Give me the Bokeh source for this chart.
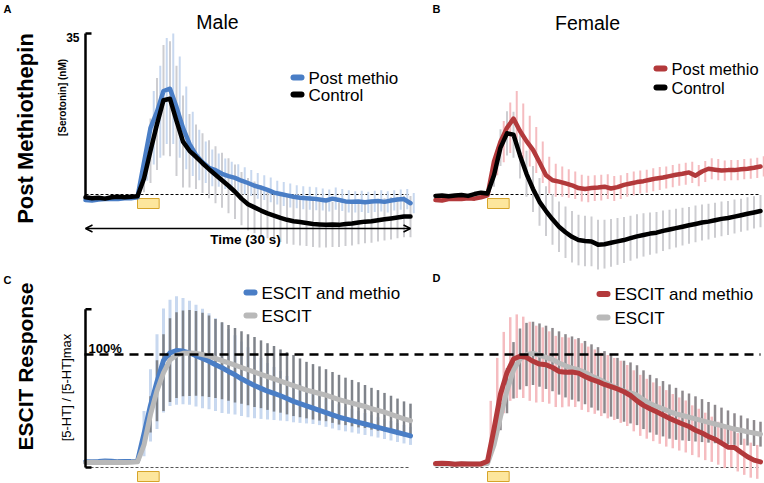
import numpy as np
from bokeh.plotting import figure
from bokeh.models import Range1d, Label, Arrow, OpenHead
from bokeh.embed import file_html
from bokeh.resources import INLINE

# ---------------- data ----------------
time_s = [0.0, 0.6, 1.2, 1.8, 2.4, 3.0, 3.6, 4.2, 4.8, 5.4, 6.0, 6.6, 7.2, 7.8, 8.4, 9.0,
          9.6, 10.2, 10.8, 11.4, 12.0, 12.6, 13.2, 13.8, 14.4, 15.0, 15.6, 16.2, 16.8, 17.4,
          18.0, 18.6, 19.2, 19.8, 20.4, 21.0, 21.6, 22.2, 22.8, 23.4, 24.0, 24.6, 25.2, 25.8,
          26.4, 27.0, 27.6, 28.2, 28.8, 29.4, 30.0]
stim_start, stim_end = 4.8, 6.8
y_top_nM = 35
axis_top_pct = 140
ref_pct = 100

# Panel A - Male, serotonin (nM)
a_post = [-1.2, -1.3, -1.1, -1.0, -0.9, -1.0, -0.8, -0.8, -0.6,
          7.0, 14.5, 18.0, 22.5, 23.0, 19.0, 14.5, 11.0, 8.6, 7.0, 5.8,
          5.3, 4.5, 4.0, 3.6, 3.0, 2.5, 1.9, 1.5, 1.0, 0.4,
          0.1, -0.2, -0.5, -0.7, -0.8, -0.9, -1.1, -1.3, -0.9, -1.2,
          -1.5, -1.6, -1.5, -1.7, -1.5, -1.4, -1.6, -1.3, -1.1, -1.0, -1.9]
a_ctrl = [-0.6, -0.8, -0.7, -0.9, -0.6, -0.5, -0.6, -0.5, -0.4,
          3.5, 9.5, 15.3, 20.5, 20.8, 16.0, 11.5, 9.5, 8.2, 6.8, 5.5,
          4.3, 3.1, 1.9, 0.6, -0.9, -2.1, -2.8, -3.5, -4.1, -4.6,
          -5.1, -5.5, -5.8, -6.0, -6.2, -6.4, -6.5, -6.6, -6.5, -6.6,
          -6.4, -6.3, -6.1, -5.9, -5.8, -5.6, -5.4, -5.2, -5.0, -4.8, -4.8]
a_post_err = [0, 0, 0, 0, 0, 0, 0, 0, 0,
              4, 8, 10, 11.5, 12, 11, 9, 7, 5.5, 4.5,
              4, 3.6, 3.3, 3.1, 3.0, 2.9, 2.8, 2.8, 2.7, 2.7,
              2.6, 2.6, 2.6, 2.5, 2.5, 2.5, 2.5, 2.4, 2.4, 2.4,
              2.4, 2.4, 2.3, 2.3, 2.3, 2.3, 2.3, 2.3, 2.2, 2.2,
              2.2, 2.2]
a_ctrl_err = [0, 0, 0, 0, 0, 0, 0, 0, 0,
              3, 7, 10, 12, 12.5, 12, 10, 8, 7, 6.5,
              6.3, 6.2, 6.0, 6.0, 5.9, 5.8, 5.7, 5.6, 5.5, 5.4,
              5.3, 5.2, 5.2, 5.1, 5.1, 5.0, 5.0, 5.0, 4.9, 4.9,
              4.8, 4.8, 4.8, 4.7, 4.7, 4.7, 4.6, 4.6, 4.6, 4.5,
              4.5, 4.5]

# Panel B - Female, serotonin (nM)
b_post = [-1.2, -1.3, -1.0, -0.9, -1.0, -0.8, -0.9, -0.6, -0.2,
          7.2, 11.5, 14.5, 16.5, 13.8, 11.6, 9.7, 7.0, 4.2, 3.1, 2.8,
          2.4, 2.0, 1.4, 1.2, 1.4, 1.5, 1.7, 1.3, 1.6, 2.1,
          2.4, 2.7, 2.9, 3.2, 3.5, 3.7, 4.0, 4.3, 4.5, 4.8,
          4.1, 5.0, 5.6, 5.4, 5.2, 5.3, 5.3, 5.5, 5.6, 5.8, 6.1]
b_ctrl = [-0.3, -0.2, -0.4, -0.2, -0.1, -0.3, 0.1, 0.4, 0.2,
          4.2, 10.2, 13.3, 13.0, 8.5, 4.5, 1.2, -1.6, -3.6, -5.4, -7.0,
          -8.2, -9.2, -9.9, -10.1, -10.2, -10.9, -10.8, -10.5, -10.2, -9.9,
          -9.5, -9.1, -8.8, -8.5, -8.3, -7.9, -7.6, -7.3, -7.0, -6.7,
          -6.4, -6.1, -5.9, -5.6, -5.3, -5.1, -4.8, -4.5, -4.2, -3.9, -3.6]
b_post_err = [0, 0, 0, 0, 0, 0, 0, 0, 0,
              3, 4.5, 5.5, 6, 6, 5.5, 5, 4.5, 4, 3.6,
              3.3, 3.1, 3.0, 2.9, 2.9, 2.8, 2.8, 2.7, 2.7, 2.6,
              2.6, 2.6, 2.5, 2.5, 2.5, 2.5, 2.4, 2.4, 2.4, 2.4,
              2.3, 2.3, 2.3, 2.3, 2.3, 2.2, 2.2, 2.2, 2.2, 2.2,
              2.2, 2.2]
b_ctrl_err = [0, 0, 0, 0, 0, 0, 0, 0, 0,
              2.5, 4, 4.8, 5, 5, 5, 5, 5.2, 5.4, 5.5,
              5.5, 5.6, 5.6, 5.5, 5.5, 5.4, 5.4, 5.3, 5.2, 5.1,
              5.0, 4.9, 4.8, 4.7, 4.6, 4.5, 4.4, 4.3, 4.2, 4.1,
              4.0, 4.0, 3.9, 3.9, 3.8, 3.8, 3.7, 3.7, 3.6, 3.6,
              3.5, 3.5]

# Panel C - Male, ESCIT response (% of max)
c_combo = [5.0, 5.2, 5.3, 5.8, 5.5, 5.2, 5.3, 5.2, 5.5,
           30.0, 55.0, 76.0, 94.7, 101.5, 103.5, 103.0, 101.5, 99.0, 96.5, 94.0,
           91.0, 88.3, 85.0, 82.0, 78.5, 75.5, 72.5, 70.0, 67.5, 65.5,
           63.5, 61.0, 58.5, 56.5, 54.5, 52.5, 50.5, 48.5, 46.5, 44.5,
           43.0, 41.5, 40.0, 38.5, 37.0, 35.5, 34.0, 32.5, 31.0, 29.5, 28.0]
c_escit = [4.5, 4.6, 4.5, 4.7, 4.5, 4.6, 4.5, 4.6, 5.0,
           20.0, 47.0, 68.0, 84.0, 95.0, 99.5, 101.0, 101.3, 101.0, 100.0, 98.5,
           96.5, 94.5, 92.5, 90.5, 88.5, 86.5, 84.5, 82.5, 80.5, 78.5,
           76.5, 74.5, 72.5, 70.5, 68.5, 67.0, 65.5, 64.0, 62.0, 60.0,
           58.5, 57.0, 55.5, 54.0, 52.0, 50.5, 49.0, 47.0, 45.0, 43.0, 41.5]
c_combo_err = [0, 0, 0, 0, 0, 0, 0, 0, 0,
               20, 32, 42, 46, 47, 48, 47, 46, 45, 44,
               42.5, 41, 40, 37.5, 35, 33, 31, 29, 27, 25,
               23.5, 22, 20, 18.5, 17, 15.5, 14, 13, 12.5, 12,
               11.5, 11, 10.5, 10, 9.7, 9.4, 9, 8.8, 8.6, 8.4,
               8.2, 8]
c_escit_err = [0, 0, 0, 0, 0, 0, 0, 0, 0, 0,
               16, 27, 34, 37, 38, 38, 38, 37.5, 37, 36,
               35, 34, 33.5, 33, 32, 31.5, 31, 30, 29.5, 29,
               28, 27.5, 27, 26, 25, 24.5, 24, 23, 22.5, 22,
               21, 20.5, 20, 19, 18.5, 18, 17, 16.5, 16, 15.5,
               15]

# Panel D - Female, ESCIT response (% of max)
d_combo = [3.5, 3.8, 3.6, 2.8, 3.3, 3.1, 3.0, 3.2, 5.5,
           34.0, 65.0, 84.0, 96.0, 98.5, 97.5, 94.0, 91.5, 91.0, 88.5, 85.0,
           84.3, 84.5, 83.5, 80.5, 78.0, 76.0, 73.5, 71.5, 69.5, 67.0,
           63.7, 59.0, 55.0, 52.0, 49.3, 46.5, 43.5, 41.0, 38.5, 36.3,
           33.0, 30.5, 27.5, 25.0, 21.5, 18.0, 17.8, 13.5, 9.5, 6.5, 5.0]
d_escit = [3.0, 3.2, 3.0, 2.9, 3.1, 3.0, 2.9, 3.0, 3.5,
           20.0, 45.0, 68.0, 86.0, 96.0, 100.0, 101.0, 99.5, 97.5, 95.5, 92.5,
           90.0, 88.0, 86.5, 84.0, 81.0, 78.5, 75.5, 72.5, 70.0, 67.5,
           66.0, 64.0, 60.0, 56.5, 54.0, 52.0, 49.5, 47.5, 46.0, 44.5,
           43.0, 41.5, 40.0, 38.5, 37.0, 35.5, 34.0, 33.0, 31.5, 30.5, 29.5]
d_combo_err = [0, 0, 0, 0, 0, 0, 0, 0, 0,
               25, 32, 36, 37, 37, 36, 35, 34, 33, 32,
               31.5, 31, 30.5, 30, 29.5, 29, 28.5, 28, 28, 27.5,
               27.5, 27, 27, 27, 26.5, 26, 25.5, 25, 24, 23.5,
               23, 22, 21.5, 21, 20, 19, 18.5, 17.5, 17, 16,
               15.5, 15]
d_escit_err = [0, 0, 0, 0, 0, 0, 0, 0, 0, 0,
               12, 20, 25, 27, 28, 28, 28, 28, 28, 28,
               28, 28, 28, 28, 28, 28, 27.5, 27.5, 27, 27,
               27, 26.5, 26, 25.5, 25, 24.5, 24, 23, 22, 21,
               20, 19, 18, 17, 16, 15, 14, 13, 12, 11.5,
               11]

for arr in [a_post, a_ctrl, a_post_err, a_ctrl_err, b_post, b_ctrl, b_post_err, b_ctrl_err,
            c_combo, c_escit, c_combo_err, c_escit_err, d_combo, d_escit, d_combo_err, d_escit_err]:
    assert len(arr) == len(time_s), len(arr)

# ---------------- styles ----------------
BLUE = "#4a7ec6"
LBLUE = "#c8d8ef"
RED = "#b3393b"
PINK = "#f5bcc0"
LGRAY_BAR = "#cdcdd1"
GRAY_LINE = "#b9b9b9"
DGRAY_BAR = "#7f838a"
DGRAY_BAR_D = "#8d898d"
FONT = "Liberation Sans"

W, H = 764, 483
# canvas coordinates == reference-image pixels
X0, X1, Y0, Y1 = 0, W, H, 0

p = figure(width=W, height=H, x_range=Range1d(X0, X1), y_range=Range1d(Y0, Y1),
           output_backend="svg", toolbar_location=None, min_border=0,
           x_axis_location=None, y_axis_location=None)
p.xgrid.visible = False
p.ygrid.visible = False
p.outline_line_color = None
p.background_fill_color = "white"
p.border_fill_color = "white"

# panel placement (pixel anchors): t=0 -> xl, t=end -> xr ; value 0 -> yb, value vref -> yr
panels = {
    "A": dict(xl=85, xr=410, yb=194, yr=33, vref=y_top_nM),
    "B": dict(xl=435, xr=760, yb=194, yr=33, vref=y_top_nM),
    "C": dict(xl=85, xr=410, yb=467, yr=354, vref=ref_pct),
    "D": dict(xl=435, xr=760, yb=467, yr=354, vref=ref_pct),
}
span = time_s[-1] - time_s[0]
for k, g in panels.items():
    sx = (g["xr"] - g["xl"]) / span
    p.extra_x_ranges["t" + k] = Range1d((X0 - g["xl"]) / sx + time_s[0], (X1 - g["xl"]) / sx + time_s[0])
    sy = (g["yb"] - g["yr"]) / g["vref"]
    p.extra_y_ranges["v" + k] = Range1d((g["yb"] - Y0) / sy, (g["yb"] - Y1) / sy)


def errbars(k, vals, errs, color, width, shift=0.0):
    xs, lo, hi = [], [], []
    for t, v, e in zip(time_s, vals, errs):
        if e > 0:
            xs.append(t + shift)
            lo.append(v - e)
            hi.append(v + e)
    p.segment(x0=xs, x1=xs, y0=lo, y1=hi, line_color=color, line_width=width,
              x_range_name="t" + k, y_range_name="v" + k)


def trace(k, vals, color, width):
    p.line(time_s, vals, line_color=color, line_width=width, line_cap="round",
           line_join="round", x_range_name="t" + k, y_range_name="v" + k)


def baseline(k, color):
    p.segment(x0=[time_s[0]], x1=[time_s[-1]], y0=[0], y1=[0], line_color=color,
              line_width=1, line_dash="3 2", x_range_name="t" + k, y_range_name="v" + k)


def stim_box(k, top, bottom):
    p.quad(left=[stim_start], right=[stim_end], top=[top], bottom=[bottom],
           fill_color="#fde69c", line_color="#d6a42a", line_width=1, x_range_name="t" + k)


def label(x, y, text, size, bold=False, align="left", angle=0.0, color="black", font=FONT):
    p.add_layout(Label(x=x, y=y, text=text, text_font=font, text_font_size=f"{size}px",
                       text_font_style="bold" if bold else "normal", text_align=align,
                       text_baseline="middle", angle=angle, text_color=color))


def legend_item(x, y, color, text, size=17):
    p.segment(x0=[x], x1=[x + 8], y0=[y], y1=[y], line_color=color, line_width=6,
              line_cap="round")
    label(x + 15, y + 0.5, text, size)


# ---- baselines / stim
for k in "AB":
    baseline(k, "black")
for k in "CD":
    baseline(k, "#555555")
stim_box("A", 198, 208)
stim_box("B", 198, 208)
stim_box("C", 471, 481)
stim_box("D", 471, 481)

# ---- panel A
errbars("A", a_ctrl, a_ctrl_err, LGRAY_BAR, 2)
errbars("A", a_post, a_post_err, LBLUE, 2, shift=0.3)
trace("A", a_post, BLUE, 4.5)
trace("A", a_ctrl, "black", 4.5)

# ---- panel B
errbars("B", b_ctrl, b_ctrl_err, LGRAY_BAR, 2)
errbars("B", b_post, b_post_err, PINK, 2, shift=0.3)
trace("B", b_post, RED, 4.5)
trace("B", b_ctrl, "black", 4.5)

# ---- panel C
errbars("C", c_combo, c_combo_err, LBLUE, 3)
errbars("C", c_escit, c_escit_err, DGRAY_BAR, 2.5)
trace("C", c_combo, BLUE, 5)
trace("C", c_escit, GRAY_LINE, 5)

# ---- panel D
errbars("D", d_combo, d_combo_err, PINK, 2.5, shift=-0.3)
errbars("D", d_escit, d_escit_err, DGRAY_BAR_D, 2.5)
trace("D", d_escit, GRAY_LINE, 5)
trace("D", d_combo, RED, 5)

# ---- 100% reference line (C through D)
p.segment(x0=[84], x1=[760], y0=[ref_pct], y1=[ref_pct], line_color="black",
          line_width=2.5, line_dash="9 6", y_range_name="vC")

# ---- axes
p.segment(x0=[85, 85], x1=[85, 91], y0=[-0.7, y_top_nM], y1=[y_top_nM, y_top_nM],
          line_color="black", line_width=2.5, y_range_name="vA")
p.segment(x0=[85, 85, 85], x1=[85, 91, 91], y0=[0, axis_top_pct, 0],
          y1=[axis_top_pct, axis_top_pct, 0],
          line_color="black", line_width=2.5, y_range_name="vC")
label(79, 37, str(y_top_nM), 12, bold=True, align="right")

# time arrow
p.add_layout(Arrow(x_start=time_s[0], x_end=time_s[-1], y_start=228, y_end=228,
                   x_range_name="tA", line_width=1.5, line_color="black",
                   start=OpenHead(size=7, line_width=1.5),
                   end=OpenHead(size=7, line_width=1.5)))
label(245, 239, "Time (30 s)", 13.5, bold=True, align="center")

# ---- texts
label(217, 21, "Male", 19.5, align="center")
label(587, 22, "Female", 19.5, align="center")
label(3, 8, "A", 11, bold=True)
label(432, 8, "B", 11, bold=True)
label(3, 279, "C", 11, bold=True)
label(432, 277, "D", 11, bold=True)
label(25, 128, "Post Methiothepin", 22, bold=True, align="center", angle=np.pi / 2)
label(25, 366, "ESCIT Response", 21, bold=True, align="center", angle=np.pi / 2)
label(62, 97, "[Serotonin] (nM)", 10, bold=True, align="center", angle=np.pi / 2)
label(66, 387, "[5-HT] / [5-HT]max", 13, align="center", angle=np.pi / 2)
label(88, 347.5, "100%", 13, bold=True)

# ---- legends
legend_item(293, 77, BLUE, "Post methio")
legend_item(293, 94, "black", "Control")
legend_item(656, 68, RED, "Post methio", 16.5)
legend_item(656, 87, "black", "Control", 16.5)
legend_item(246, 292, BLUE, "ESCIT and methio")
legend_item(246, 315, GRAY_LINE, "ESCIT")
legend_item(599, 293.5, RED, "ESCIT and methio")
legend_item(599, 317, GRAY_LINE, "ESCIT")

open("out.html", "w").write(file_html(p, INLINE))
